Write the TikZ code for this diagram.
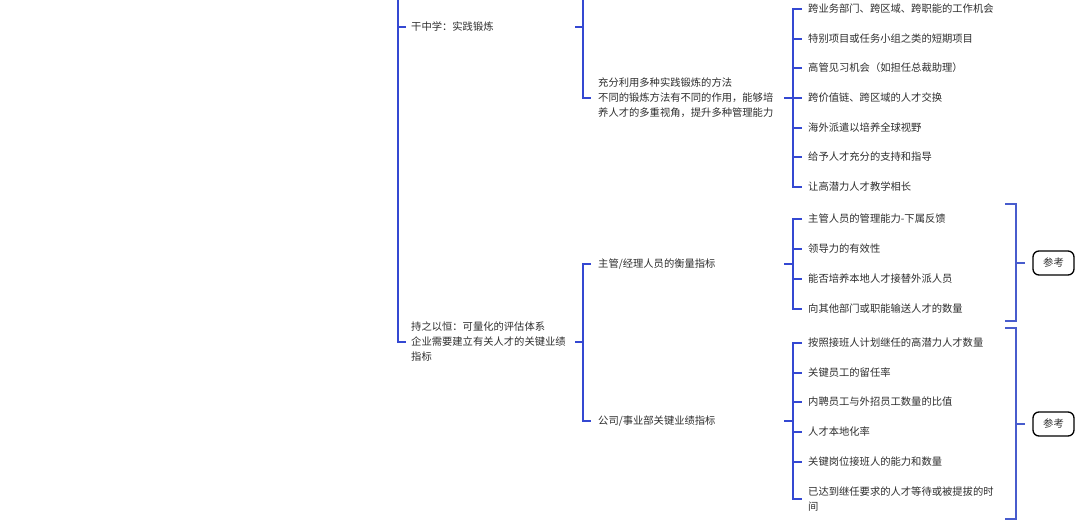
\documentclass[tikz,border=0pt]{standalone}
\usepackage{fontspec}
\setmainfont{Noto Sans CJK SC}
\definecolor{lblue}{RGB}{52,72,210}
\definecolor{bblue}{RGB}{72,92,205}
\definecolor{tgray}{RGB}{45,45,45}
\begin{document}
\begin{tikzpicture}[x=1pt,y=-1pt,
  line/.style={draw=lblue, line width=1.4pt},
  brk/.style={draw=bblue, line width=1.4pt},
  txt/.style={anchor=west, inner sep=0pt, font=\fontsize{10.3}{15}\selectfont, text=tgray, align=left},
  refbox/.style={draw=black, line width=1.3pt, rounded corners=6pt, minimum width=41pt, minimum height=24pt, inner sep=0pt, font=\fontsize{10.3}{12}\selectfont, text=tgray}]
\useasboundingbox (0,0) rectangle (1080,525);

% level 1
\node[txt] (gzx) at (411,27) {干中学：实践锻炼};
\node[txt] (czyh) at (411,342) {持之以恒：可量化的评估体系\\企业需要建立有关人才的关键业绩\\指标};

% level 2
\node[txt] (cf) at (598,98) {充分利用多种实践锻炼的方法\\不同的锻炼方法有不同的作用，能够培\\养人才的多重视角，提升多种管理能力};
\node[txt] (zg) at (598,264) {主管/经理人员的衡量指标};
\node[txt] (gs) at (598,421) {公司/事业部关键业绩指标};

% level 3 : group a
\node[txt] (a1) at (808,9) {跨业务部门、跨区域、跨职能的工作机会};
\node[txt] (a2) at (808,39) {特别项目或任务小组之类的短期项目};
\node[txt] (a3) at (808,68) {高管见习机会（如担任总裁助理）};
\node[txt] (a4) at (808,98) {跨价值链、跨区域的人才交换};
\node[txt] (a5) at (808,128) {海外派遣以培养全球视野};
\node[txt] (a6) at (808,157) {给予人才充分的支持和指导};
\node[txt] (a7) at (808,187) {让高潜力人才教学相长};

% group b
\node[txt] (b1) at (808,219) {主管人员的管理能力-下属反馈};
\node[txt] (b2) at (808,249) {领导力的有效性};
\node[txt] (b3) at (808,279) {能否培养本地人才接替外派人员};
\node[txt] (b4) at (808,309) {向其他部门或职能输送人才的数量};

% group c
\node[txt] (c1) at (808,343) {按照接班人计划继任的高潜力人才数量};
\node[txt] (c2) at (808,373) {关键员工的留任率};
\node[txt] (c3) at (808,402) {内聘员工与外招员工数量的比值};
\node[txt] (c4) at (808,432) {人才本地化率};
\node[txt] (c5) at (808,462) {关键岗位接班人的能力和数量};
\node[txt] (c6) at (808,499) {已达到继任要求的人才等待或被提拔的时\\间};

% summary boxes
\node[refbox] (r1) at (1053.5,263) {参考};
\node[refbox] (r2) at (1053.5,424) {参考};

% coordinates
\coordinate (bus0) at (398,0);
\coordinate (bus1) at (583,0);
\coordinate (bus3) at (793,0);
\coordinate (s1) at (575,27);
\coordinate (s2) at (575,342);
\coordinate (s3) at (784,98);
\coordinate (s4) at (784,264);
\coordinate (s5) at (784,421);

% main bus
\draw[line] (bus0) |- ([xshift=-5pt]czyh.west);
\draw[line] (gzx.west -| bus0) -- ([xshift=-5pt]gzx.west);

% bus under 干中学
\draw[line] (s1) -- (s1 -| bus1);
\draw[line] (bus1) |- ([xshift=-7pt]cf.west);

% bus under 持之以恒
\draw[line] (s2) -- (s2 -| bus1);
\draw[line] ([xshift=-7pt]zg.west) -- (zg.west -| bus1) -- (gs.west -| bus1) -- ([xshift=-7pt]gs.west);

% group a
\draw[line] (s3) -- (s3 -| bus3);
\draw[line] ([xshift=-6pt]a1.west) -- (a1.west -| bus3) -- (a7.west -| bus3) -- ([xshift=-6pt]a7.west);
\foreach \n in {a2,a3,a4,a5,a6}
  \draw[line] (\n.west -| bus3) -- ([xshift=-6pt]\n.west);

% group b
\draw[line] (s4) -- (s4 -| bus3);
\draw[line] ([xshift=-6pt]b1.west) -- (b1.west -| bus3) -- (b4.west -| bus3) -- ([xshift=-6pt]b4.west);
\foreach \n in {b2,b3}
  \draw[line] (\n.west -| bus3) -- ([xshift=-6pt]\n.west);

% group c
\draw[line] (s5) -- (s5 -| bus3);
\draw[line] ([xshift=-6pt]c1.west) -- (c1.west -| bus3) -- (c6.west -| bus3) -- ([xshift=-6pt]c6.west);
\foreach \n in {c2,c3,c4,c5}
  \draw[line] (\n.west -| bus3) -- ([xshift=-6pt]\n.west);

% brackets
\coordinate (k1t) at (1005,204);
\coordinate (k1b) at (1005,321);
\coordinate (k2t) at (1005,328);
\coordinate (k2b) at (1005,519);
\coordinate (kx) at (1016,0);
\draw[brk] (k1t) -- (k1t -| kx) -- (k1b -| kx) -- (k1b);
\draw[brk] (r1.west -| kx) -- ([xshift=-7pt]r1.west);
\draw[brk] (k2t) -- (k2t -| kx) -- (k2b -| kx) -- (k2b);
\draw[brk] (r2.west -| kx) -- ([xshift=-7pt]r2.west);
\end{tikzpicture}
\end{document}
